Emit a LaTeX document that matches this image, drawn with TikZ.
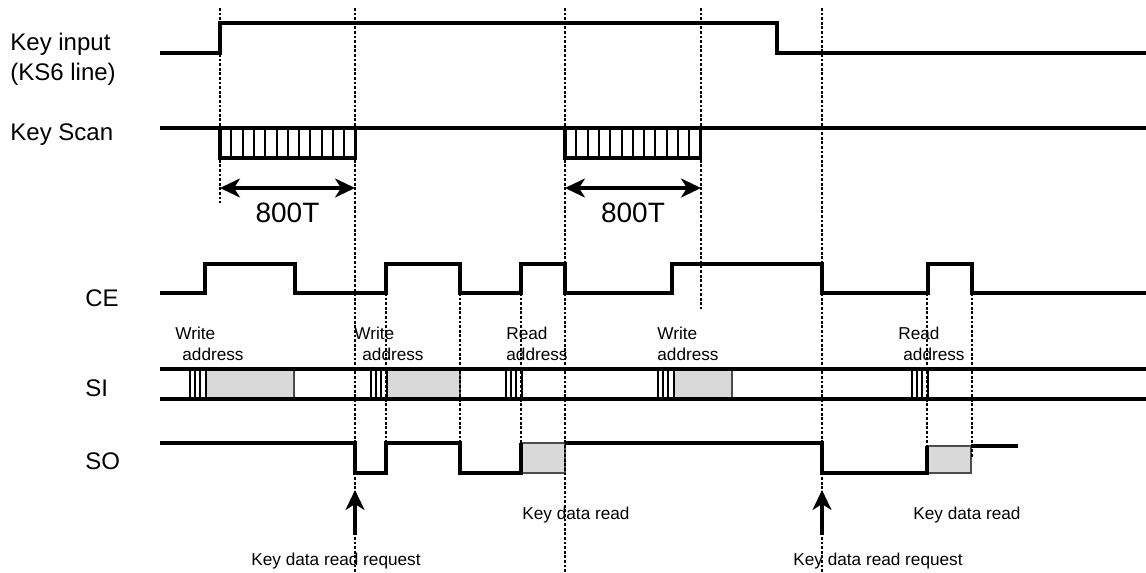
\documentclass[tikz,border=0pt]{standalone}
\usepackage{fontspec}
\setmainfont{Liberation Sans}
\usetikzlibrary{arrows.meta}

\begin{document}
\begin{tikzpicture}
		[x=0.5pt,y=-0.5pt,
		sig/.style={line width=1.6pt,line join=miter},
		stripe/.style={line width=1pt},
		dotline/.style={line width=1.4pt,dash pattern=on 1.4pt off 0.9pt},
		databox/.style={fill=black!15,draw=black!70,line width=0.9pt},
		signame/.style={inner sep=0pt,anchor=base west,font=\fontsize{12}{14}\selectfont},
		smalltext/.style={inner sep=0pt,anchor=base west,font=\fontsize{8.6}{10}\selectfont},
		notetext/.style={inner sep=0pt,anchor=base,font=\fontsize{8.6}{10}\selectfont},
		bigtext/.style={inner sep=0pt,anchor=base,font=\fontsize{14}{17}\selectfont},
		reqarrow/.style={-{Stealth[length=10pt,width=9.5pt,inset=3pt]}},
		spanarrow/.style={{Stealth[length=10pt,width=9.5pt,inset=3pt]}-{Stealth[length=10pt,width=9.5pt,inset=3pt]}}]
		\useasboundingbox (0,0) rectangle (1146,573);

		% signal names
		\node [signame] (ki) at (10,50) {Key input};
		\node [signame] (kl) at (10,80) {(KS6 line)};
		\node [signame] (ks) at (10,140) {Key Scan};
		\node [signame] (ce) at (85,306) {CE};
		\node [signame] (si) at (85,396) {SI};
		\node [signame] (so) at (85,469) {SO};

		% key input
		\draw [sig] (160,53) -- (220,53) -- (220,23) -- (777,23) -- (777,53) -- (1146,53);

		% key scan
		\draw [sig] (160,128) -- (1146,128);
		\foreach \x in {220,565}{
			\draw [sig] (\x,128) rectangle ++(135.5,30);
			\foreach \i in {1,...,11}
				\draw [stripe] ({\x+\i*11.3},128) -- ++(0,30);
		}
		\coordinate (s1) at (220,188);
		\coordinate (e1) at (355,188);
		\coordinate (s2) at (565,188);
		\coordinate (e2) at (701,188);
		\draw [sig,spanarrow] (s1) -- (e1);
		\draw [sig,spanarrow] (s2) -- (e2);
		\node [bigtext] (t1) at (287.5,222) {800T};
		\node [bigtext] (t2) at (633,222) {800T};

		% CE
		\draw [sig] (160,293) -- (205,293) -- (205,264) -- (295,264) -- (295,293) -- (386,293) -- (386,264)
			-- (460,264) -- (460,293) -- (521,293) -- (521,264) -- (565,264) -- (565,293) -- (672,293)
			-- (672,264) -- (822,264) -- (822,293) -- (928,293) -- (928,264) -- (972,264) -- (972,293) -- (1146,293);

		% SI
		\foreach \x/\e in {206/294, 387/460, 674/732}
			\draw [databox] (\x,369) rectangle (\e,399);
		\foreach \x in {190,371,506,658,912}
			\foreach \i in {0,...,3}
				\draw [stripe] ({\x+\i*5.2},369) -- ++(0,30);
		\draw [sig] (160,369) -- (1146,369);
		\draw [sig] (160,399) -- (1146,399);
		\foreach \x/\y/\w in {175/182/Write, 354/362/Write, 506/506/Read, 657/657/Write, 898/903/Read}{
			\node [smalltext] (op\x) at (\x,339) {\w};
			\node [smalltext] (ad\x) at (\y,360) {address};
		}

		% SO
		\draw [databox] (521,443) rectangle (565,473);
		\draw [databox] (927,446) rectangle (971,473);
		\draw [sig] (160,443) -- (355,443) -- (355,473) -- (386,473) -- (386,443) -- (460,443) -- (460,473)
			-- (521,473) -- (521,443);
		\draw [sig] (565,443) -- (822,443) -- (822,473) -- (927,473) -- (927,446);
		\draw [sig] (971,446) -- (1018,446);

		% notes
		\coordinate (r1) at (355,535);
		\coordinate (q1) at (355,490);
		\coordinate (r2) at (822,535);
		\coordinate (q2) at (822,490);
		\draw [sig,reqarrow] (r1) -- (q1);
		\draw [sig,reqarrow] (r2) -- (q2);
		\node [notetext] (rq1) at (336,565) {Key data read request};
		\node [notetext] (rq2) at (878,565) {Key data read request};
		\node [notetext] (rd1) at (576,519) {Key data read};
		\node [notetext] (rd2) at (967,519) {Key data read};

		% timing marks
		\foreach \x/\a/\b in {220/8/203, 355/8/573, 565/8/573, 701/8/309, 822/8/573,
			386/293/458, 460/293/443, 521/293/443, 927/293/446, 972/293/457}
			\draw [dotline] (\x,\a) -- (\x,\b);

	\end{tikzpicture}
\end{document}
